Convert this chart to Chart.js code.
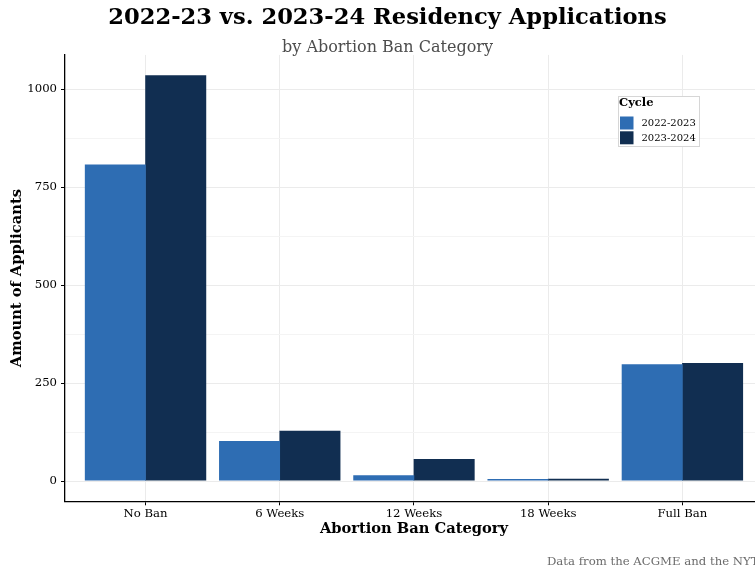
<!DOCTYPE html>
<html><head><meta charset="utf-8">
<script src="https://cdn.jsdelivr.net/npm/chart.js@4.4.1/dist/chart.umd.min.js"></script>
<style>html,body{margin:0;padding:0;overflow:hidden;background:#fff;width:755px;height:571px}canvas{display:block}</style>
</head><body>
<canvas id="c" width="775" height="571"></canvas>
<script>
const categories = ['No Ban', '6 Weeks', '12 Weeks', '18 Weeks', 'Full Ban'];
const cycles = ['2022-2023', '2023-2024'];
const values2022 = [808, 102, 15, 5, 298];
const values2023 = [1036, 128, 56, 6, 301];
const yMajorTicks = [0, 250, 500, 750, 1000];
const yMinorTicks = [125, 375, 625, 875];
const titleText = '2022-23 vs. 2023-24 Residency Applications';
const subtitleText = 'by Abortion Ban Category';
const xTitleText = 'Abortion Ban Category';
const yTitleText = 'Amount of Applicants';
const captionText = 'Data from the ACGME and the NYT';

const colors = ['#2E6DB3', '#112E51'];
const serif = "'DejaVu Serif', serif";

const legendPlugin = {
  id: 'insideLegend',
  afterDatasetsDraw(chart) {
    const ctx = chart.ctx;
    const x = 618, y = 96, w = 81, h = 50;
    ctx.save();
    ctx.fillStyle = '#ffffff';
    ctx.fillRect(x, y, w, h);
    ctx.strokeStyle = '#d6d6d6';
    ctx.lineWidth = 1;
    ctx.strokeRect(x + 0.5, y + 0.5, w, h);
    ctx.fillStyle = '#000';
    ctx.textBaseline = 'middle';
    ctx.textAlign = 'left';
    ctx.font = "bold 11.5px " + serif;
    ctx.fillText('Cycle', 619, 103);
    ctx.font = "10px " + serif;
    chart.data.datasets.forEach((ds, i) => {
      ctx.fillStyle = ds.backgroundColor;
      ctx.fillRect(620, 116.5 + i * 14.8, 13.5, 13);
      ctx.fillStyle = '#000';
      ctx.fillText(ds.label, 641.5, 123.3 + i * 15);
    });
    ctx.restore();
  }
};

const textPlugin = {
  id: 'extraText',
  afterDraw(chart) {
    const ctx = chart.ctx;
    const xs = chart.scales.x;
    ctx.save();
    ctx.font = "bold 14.67px " + serif;
    ctx.fillStyle = '#000';
    ctx.textAlign = 'center';
    ctx.textBaseline = 'middle';
    ctx.fillText(xTitleText, xs.getPixelForValue(2), 529);
    ctx.font = "11.7px " + serif;
    ctx.fillStyle = '#6b6b6b';
    ctx.textAlign = 'left';
    ctx.fillText(captionText, 547, 562);
    ctx.restore();
  }
};

new Chart(document.getElementById('c'), {
  type: 'bar',
  data: {
    datasets: [
      { label: cycles[0], data: values2022.map((v, i) => ({ x: i, y: v })), backgroundColor: colors[0], borderWidth: 0, categoryPercentage: 0.9, barPercentage: 1.01 },
      { label: cycles[1], data: values2023.map((v, i) => ({ x: i, y: v })), backgroundColor: colors[1], borderWidth: 0, categoryPercentage: 0.9, barPercentage: 1.01 }
    ]
  },
  options: {
    responsive: false,
    animation: false,
    layout: { padding: { top: 0, right: 0, bottom: 32, left: 0 } },
    plugins: {
      legend: { display: false },
      tooltip: { enabled: false },
      title: { display: true, text: titleText, color: '#000', font: { family: serif, size: 22.6, weight: 'bold', lineHeight: 1.2 }, padding: { top: 4.4, bottom: 9 } },
      subtitle: { display: true, text: subtitleText, color: '#4d4d4d', font: { family: serif, size: 16, lineHeight: 0.9 }, padding: { top: 0, bottom: 0 } }
    },
    scales: {
      x: {
        type: 'linear', min: -0.6, max: 4.69, offset: false,
        afterBuildTicks: s => { s.ticks = categories.map((_, i) => ({ value: i })); },
        afterFit: s => { s.height = 37.7; },
        ticks: { callback: v => categories[v] || '', color: '#000', font: { family: serif, size: 11.7 }, padding: 2, autoSkip: false, maxRotation: 0 },
        grid: { offset: false, color: '#ebebeb', lineWidth: 1, tickLength: 4, tickColor: '#000' },
        border: { display: true, color: '#000', width: 1.3 },
        title: { display: false }
      },
      y: {
        type: 'linear', min: -51.8, max: 1087.8,
        afterBuildTicks: s => { s.ticks = yMajorTicks.concat(yMinorTicks).sort((a, b) => a - b).map(v => ({ value: v })); },
        afterFit: s => { s.width = 65; },
        ticks: { callback: v => yMajorTicks.includes(v) ? String(v) : '', color: '#000', font: { family: serif, size: 11.7 }, padding: 4, autoSkip: false },
        grid: {
          color: c => (c.tick && yMajorTicks.includes(c.tick.value)) ? '#ebebeb' : '#f4f4f4',
          tickColor: c => (c.tick && yMajorTicks.includes(c.tick.value)) ? '#000' : 'rgba(0,0,0,0)',
          lineWidth: 1, tickLength: 4
        },
        border: { display: true, color: '#000', width: 1.3 },
        title: { display: true, text: yTitleText, color: '#000', font: { family: serif, size: 14.67, weight: 'bold' }, padding: { top: 8, bottom: 0 } }
      }
    }
  },
  plugins: [legendPlugin, textPlugin]
});
</script>
</body></html>
